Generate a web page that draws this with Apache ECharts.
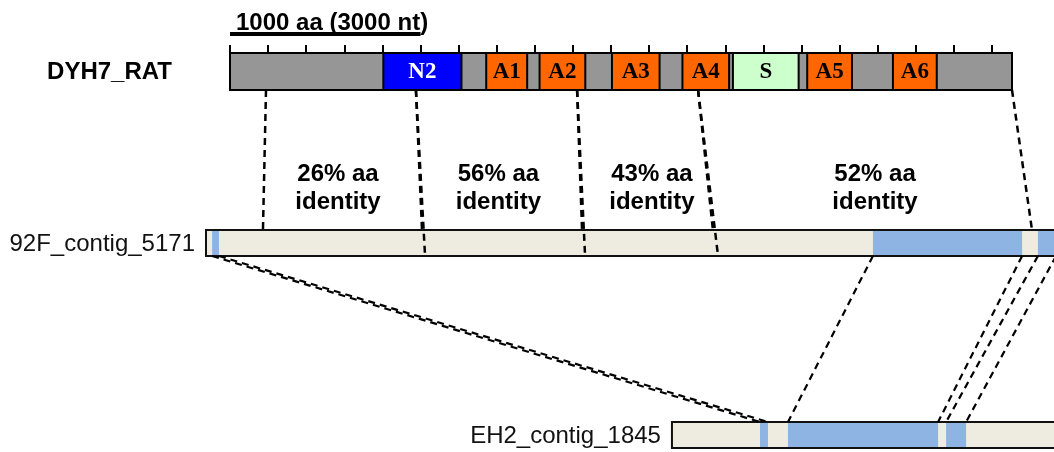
<!DOCTYPE html>
<html><head><meta charset="utf-8">
<script src="https://cdn.jsdelivr.net/npm/echarts@6/dist/echarts.min.js"></script>
<style>html,body{margin:0;padding:0;background:#fff}#c{width:1054px;height:452px}</style>
</head><body><div id="c"></div>
<script>
// ---------- data (x positions in amino-acid units on the shared scale) ----------
const scaleBarLength = 1000;           // "1000 aa (3000 nt)"
const scaleBarLabel = '1000 aa (3000 nt)';
const tickInterval = 200;
const axisMax = 4000;

const proteinName = 'DYH7_RAT';
const proteinLength = 4105;
const domainNames  = ['N2', 'A1', 'A2', 'A3', 'A4', 'S', 'A5', 'A6'];
const domainStarts = [805, 1345, 1625, 2005, 2375, 2640, 3030, 3480];
const domainEnds   = [1215, 1560, 1865, 2255, 2620, 2985, 3265, 3710];

const contigNames  = ['92F_contig_5171', 'EH2_contig_1845'];
const contigStarts = [-126, 2320];
const contigEnds   = [4420, 4420];
const hits92FStarts = [-94, 3375, 4241];
const hits92FEnds   = [-58, 4158, 4336];
const hitsEH2Starts = [2782, 2929, 3759];
const hitsEH2Ends   = [2824, 3717, 3864];

const blockProtStarts   = [189, 976, 1822, 2457];
const blockProtEnds     = [976, 1822, 2457, 4105];
const blockContigStarts = [173, 1024, 1864, 2562];
const blockContigEnds   = [1008, 1848, 2535, 4210];
const blockIdentity     = [26, 56, 43, 52];
const blockLabelX       = [567, 1409, 2215, 3386];

// ---------- layout (vertical track positions in y-axis units) ----------
const TRACK = { protein: [53, 90], c0: [230, 256], c1: [422, 448] };
const contigTracks = ['c0', 'c1'];
const SANS = "'Liberation Sans', Arial, sans-serif";
const SERIF = "'Liberation Serif', 'Times New Roman', serif";
const COLORS = { backbone: '#969696', N2: '#0000FF', A: '#FF6600', S: '#CCFFCC',
                 contig: '#EEECE1', hit: '#8DB4E2' };

function domainColor(n) { return n === 'N2' ? COLORS.N2 : (n === 'S' ? COLORS.S : COLORS.A); }

// protein items
const proteinData = [[0, proteinLength]].concat(domainStarts.map((s, i) => [s, domainEnds[i]]));
const proteinMeta = [{ name: null, fill: COLORS.backbone }].concat(
  domainNames.map(n => ({ name: n, fill: domainColor(n) })));

// contig items
const contigData = [], contigMeta = [];
contigNames.forEach((n, i) => {
  contigData.push([contigStarts[i], contigEnds[i]]);
  contigMeta.push({ kind: 'fill', track: contigTracks[i], name: n });
});
[[hits92FStarts, hits92FEnds, 'c0'], [hitsEH2Starts, hitsEH2Ends, 'c1']].forEach(([ss, es, t]) => {
  ss.forEach((s, i) => { contigData.push([s, es[i]]); contigMeta.push({ kind: 'hit', track: t }); });
});
contigNames.forEach((n, i) => {
  contigData.push([contigStarts[i], contigEnds[i]]);
  contigMeta.push({ kind: 'outline', track: contigTracks[i] });
});

// connecting dashed lines [xFrom, xTo], meta gives tracks
const lineData = [], lineMeta = [];
blockProtStarts.forEach((s, k) => {
  lineData.push([s, blockContigStarts[k]]);
  lineMeta.push({ y0: TRACK.protein[1], y1: k === 0 ? TRACK.c0[0] : TRACK.c0[1], w: 2.5 });
  lineData.push([blockProtEnds[k], blockContigEnds[k]]);
  lineMeta.push({ y0: TRACK.protein[1], y1: TRACK.c0[0], w: 2.5 });
});
hits92FStarts.forEach((s, i) => {
  lineData.push([s, hitsEH2Starts[i]]); lineMeta.push({ y0: TRACK.c0[1], y1: TRACK.c1[0], w: 2.2 });
  lineData.push([hits92FEnds[i], hitsEH2Ends[i]]); lineMeta.push({ y0: TRACK.c0[1], y1: TRACK.c1[0], w: 2.2 });
});

const labelData = blockLabelX.map((x, i) => [x, blockIdentity[i]]);

const chart = echarts.init(document.getElementById('c'), null, { renderer: 'canvas' });
chart.setOption({
  animation: false,
  backgroundColor: '#ffffff',
  grid: { left: 230, right: 62, top: 53, bottom: 4 },
  xAxis: {
    type: 'value', position: 'top', min: 0, max: axisMax, interval: tickInterval,
    axisLine: { show: false },
    axisTick: { show: true, length: 8, lineStyle: { color: '#000', width: 2 } },
    axisLabel: { show: false }, splitLine: { show: false }
  },
  yAxis: { type: 'value', min: 53, max: 448, inverse: true, show: false, splitLine: { show: false } },
  series: [
    { // scale bar
      type: 'custom', z: 5, data: [[0, scaleBarLength]],
      renderItem(params, api) {
        const a = api.coord([api.value(0), 34]), b = api.coord([api.value(1), 34]);
        return { type: 'group', children: [
          { type: 'line', shape: { x1: a[0], y1: a[1], x2: b[0], y2: b[1] }, style: { stroke: '#000', lineWidth: 4 } },
          { type: 'text', style: { x: a[0] + 6, y: 23, text: scaleBarLabel, fill: '#000',
            font: 'bold 24px ' + SANS, textAlign: 'left', textVerticalAlign: 'middle' } }
        ]};
      }
    },
    { // contigs
      type: 'custom', z: 3, data: contigData,
      renderItem(params, api) {
        const m = contigMeta[params.dataIndex];
        const t = TRACK[m.track];
        const p0 = api.coord([api.value(0), t[0]]), p1 = api.coord([api.value(1), t[1]]);
        if (m.kind === 'fill') {
          return { type: 'group', children: [
            { type: 'rect', shape: { x: p0[0], y: p0[1], width: p1[0] - p0[0], height: p1[1] - p0[1] },
              style: { fill: COLORS.contig } },
            { type: 'text', style: { x: p0[0] - 11, y: (p0[1] + p1[1]) / 2 + 1, text: m.name, fill: '#111',
              font: '24px ' + SANS, textAlign: 'right', textVerticalAlign: 'middle' } }
          ]};
        }
        if (m.kind === 'hit') {
          return { type: 'rect', shape: { x: p0[0], y: p0[1], width: p1[0] - p0[0], height: p1[1] - p0[1] },
            style: { fill: COLORS.hit } };
        }
        return { type: 'rect', shape: { x: p0[0], y: p0[1], width: p1[0] - p0[0], height: p1[1] - p0[1] },
          style: { fill: 'none', stroke: '#111', lineWidth: 2 } };
      }
    },
    { // protein
      type: 'custom', z: 4, data: proteinData,
      renderItem(params, api) {
        const m = proteinMeta[params.dataIndex];
        const p0 = api.coord([api.value(0), TRACK.protein[0]]), p1 = api.coord([api.value(1), TRACK.protein[1]]);
        const children = [{ type: 'rect',
          shape: { x: p0[0], y: p0[1], width: p1[0] - p0[0], height: p1[1] - p0[1] },
          style: { fill: m.fill, stroke: '#000', lineWidth: 2 } }];
        if (m.name) {
          children.push({ type: 'text', style: { x: (p0[0] + p1[0]) / 2, y: (p0[1] + p1[1]) / 2 + 1, text: m.name,
            fill: m.name === 'N2' ? '#fff' : '#000', font: 'bold 23px ' + SERIF,
            textAlign: 'center', textVerticalAlign: 'middle' } });
        } else {
          children.push({ type: 'text', style: { x: p0[0] - 58, y: (p0[1] + p1[1]) / 2 + 1, text: proteinName,
            fill: '#000', font: 'bold 24px ' + SANS, textAlign: 'right', textVerticalAlign: 'middle' } });
        }
        return { type: 'group', children };
      }
    },
    { // dashed alignment lines
      type: 'custom', z: 6, data: lineData,
      renderItem(params, api) {
        const m = lineMeta[params.dataIndex];
        const a = api.coord([api.value(0), m.y0]), b = api.coord([api.value(1), m.y1]);
        return { type: 'line', shape: { x1: a[0], y1: a[1], x2: b[0], y2: b[1] },
          style: { stroke: '#000', lineWidth: m.w, lineDash: [7, 5] } };
      }
    },
    { // identity labels
      type: 'custom', z: 6, data: labelData,
      renderItem(params, api) {
        const p = api.coord([api.value(0), 188]);
        return { type: 'text', style: { x: p[0], y: p[1], text: api.value(1) + '% aa\nidentity',
          fill: '#000', font: 'bold 24px ' + SANS, lineHeight: 28,
          textAlign: 'center', textVerticalAlign: 'middle' } };
      }
    }
  ]
});
</script></body></html>
